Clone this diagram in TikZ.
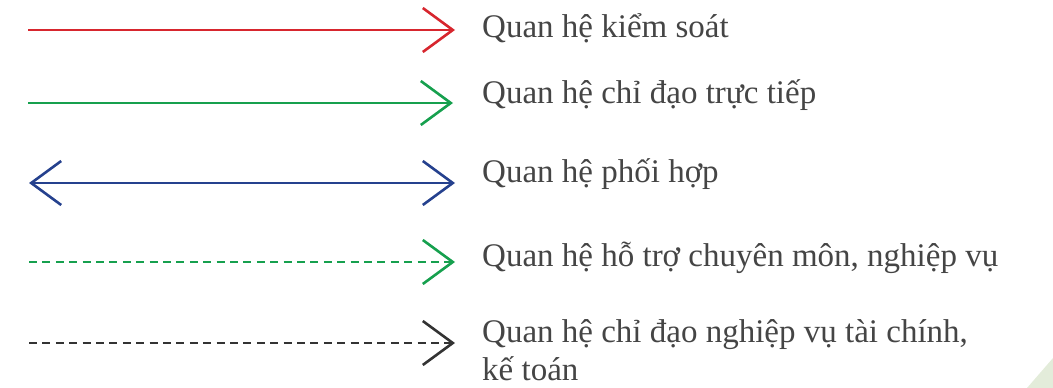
\documentclass[tikz,border=0pt]{standalone}
\usepackage{fontspec}
\setmainfont{Liberation Serif}
\usetikzlibrary{arrows.meta}
\definecolor{ctrlred}{HTML}{D7262E}
\definecolor{leadgreen}{HTML}{16A04E}
\definecolor{coopblue}{HTML}{25418E}
\definecolor{finblack}{HTML}{333333}
\definecolor{labelgray}{HTML}{454545}
\definecolor{cornergreen}{HTML}{E3ECDA}
\tikzset{
  x=1pt, y=-1pt,
  barb/.tip={Straight Barb[length=30pt,width=44pt,line width=0pt 1]},
  relline/.style={line width=2.6pt, -barb},
  dashrel/.style={relline, dash pattern=on 8pt off 5.4pt},
  legendtext/.style={anchor=base west, inner sep=0pt, text=labelgray,
    font=\fontsize{33}{40}\selectfont},
}
\begin{document}
\begin{tikzpicture}
\useasboundingbox (0,0) rectangle (1053,388);
% corner decoration
\fill[cornergreen] (1027,388) -- (1053,358) -- (1053,388) -- cycle;

% line end points
\coordinate (r0) at (28,30);   \coordinate (r1) at (455,30);
\coordinate (g0) at (28,103);  \coordinate (g1) at (453,103);
\coordinate (b0) at (29,183);  \coordinate (b1) at (455,183);
\coordinate (d0) at (29,262);  \coordinate (d1) at (455,262);
\coordinate (k0) at (29,343);  \coordinate (k1) at (455,343);

% connectors
\draw[relline, ctrlred] (r0) -- (r1);
\draw[relline, leadgreen] (g0) -- (g1);
\draw[relline, coopblue, barb-barb] (b0) -- (b1);
\draw[dashrel, leadgreen] (d0) -- (d1);
\draw[dashrel, finblack] (k0) -- (k1);

% labels
\node[legendtext] (lr) at (482,37) {Quan hệ kiểm soát};
\node[legendtext] (lg) at (482,103) {Quan hệ chỉ đạo trực tiếp};
\node[legendtext] (lb) at (482,182) {Quan hệ phối hợp};
\node[legendtext] (ld) at (482,266) {Quan hệ hỗ trợ chuyên môn, nghiệp vụ};
\node[legendtext] (lk) at (482,342) {Quan hệ chỉ đạo nghiệp vụ tài chính,};
\node[legendtext] (lk2) at (482,380) {kế toán};
\end{tikzpicture}
\end{document}
